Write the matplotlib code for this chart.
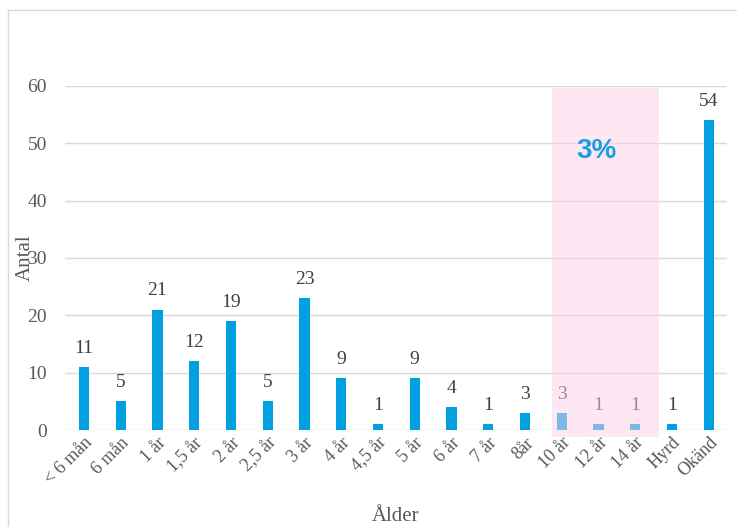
import matplotlib.pyplot as plt
from matplotlib.patches import Rectangle
from matplotlib.lines import Line2D

# age groups and counts
categories = ["< 6 mån", "6 mån", "1 år", "1,5 år", "2 år", "2,5 år", "3 år", "4 år",
              "4,5 år", "5 år", "6 år", "7 år", "8år", "10 år", "12 år", "14 år",
              "Hyrd", "Okänd"]
counts = [11, 5, 21, 12, 19, 5, 23, 9, 1, 9, 4, 1, 3, 3, 1, 1, 1, 54]
highlight_label = "3%"

plt.rcParams['font.family'] = ['Liberation Serif', 'DejaVu Serif']

fig = plt.figure(figsize=(7.37, 5.27), dpi=100)
ax = fig.add_axes([0.088, 0.184, 0.898, 0.653])

x = range(len(categories))
bars = ax.bar(x, counts, width=0.28, color='#00A0E1', zorder=2)

for xi, v in zip(x, counts):
    ax.text(xi, v + 1.8, str(v), ha='center', va='bottom', fontsize=14, color='#404040', zorder=3)

# highlighted span over the older ages
ax.add_patch(Rectangle((12.73, -1.2), 2.91, 60.8, facecolor='#FBD0E8', alpha=0.5,
                       edgecolor='none', zorder=4, clip_on=False))
ax.text(13.95, 48.6, highlight_label, ha='center', va='center', fontsize=20,
        fontweight='bold', color='#1A9FE0', family=['Liberation Sans', 'DejaVu Sans'], zorder=5)

ax.set_xlim(-0.52, 17.49)
ax.set_ylim(0, 60)
ax.set_yticks(range(0, 61, 10))
ax.yaxis.grid(True, color='#D9D9D9', linewidth=1, zorder=0)
ax.set_axisbelow(True)
for s in ax.spines.values():
    s.set_visible(False)
ax.tick_params(length=0, labelsize=14, colors='#595959')
ax.tick_params(axis='y', pad=13)
ax.tick_params(axis='x', pad=3, labelsize=13)
ax.set_xticks(list(x))
ax.set_xticklabels(categories, rotation=45, ha='right', rotation_mode='anchor')

ax.set_ylabel("Antal", fontsize=15, color='#595959')
ax.yaxis.set_label_coords(-0.046, 0.5)
ax.set_xlabel("Ålder", fontsize=15, color='#595959')
ax.xaxis.set_label_coords(0.5, -0.225)

# outer frame lines
fig.add_artist(Line2D([8/737, 1], [1 - 10/527] * 2, color='#D9D9D9', lw=1))
fig.add_artist(Line2D([8/737] * 2, [0, 1 - 10/527], color='#D9D9D9', lw=1))

fig.savefig("out.png", dpi=100)
